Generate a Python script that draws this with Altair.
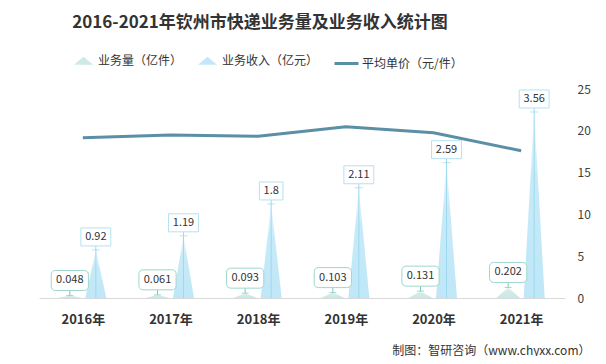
import altair as alt
import pandas as pd

# ---------------- data ----------------
years = ["2016年", "2017年", "2018年", "2019年", "2020年", "2021年"]
volume = [0.048, 0.061, 0.093, 0.103, 0.131, 0.202]      # 业务量（亿件）
revenue = [0.92, 1.19, 1.8, 2.11, 2.59, 3.56]            # 业务收入（亿元）
price = [19.17, 19.51, 19.35, 20.49, 19.77, 17.62]       # 平均单价（元/件）
right_ticks = [0, 5, 10, 15, 20, 25]

S_VOL = "业务量（亿件）"
S_REV = "业务收入（亿元）"
S_PRICE = "平均单价（元/件）"

FONT = "Noto Sans CJK SC"
W, H = 526, 209
XU = W / 6.0          # px per x unit
YU = H / 4.0          # px per unit of left (hidden) scale 0..4

VOL_OFF, REV_OFF = -13 / XU, 13 / XU
VOL_HW, REV_HW = 12 / XU, 10.5 / XU


def text_w(s):
    return sum(3.0 if c == "." else 6.3 for c in s)


tri_vol, tri_rev = [], []
lab_vol, lab_rev = [], []
for i, (v, r) in enumerate(zip(volume, revenue)):
    for s, val, off, hw, tri, lab, gap, bh, pad in [
        (S_VOL, v, VOL_OFF, VOL_HW, tri_vol, lab_vol, 5, 20, 9),
        (S_REV, r, REV_OFF, REV_HW, tri_rev, lab_rev, 4, 18, 8),
    ]:
        c = i + off
        tid = f"{s}-{i}"
        tri += [
            dict(tri=tid, x=c - hw, y=0.0),
            dict(tri=tid, x=c, y=val),
            dict(tri=tid, x=c + hw, y=0.0),
        ]
        label = str(val)
        bw = (text_w(label) + pad) / XU
        yb = val + gap / YU
        yt = yb + bh / YU
        lab.append(dict(cx=c, v=val, zero=0.0, label=label,
                        x1=c - bw / 2, x2=c + bw / 2, yb=yb, yt=yt,
                        ty=(yb + yt) / 2))

tri_vol = pd.DataFrame(tri_vol)
tri_rev = pd.DataFrame(tri_rev)
lab_vol = pd.DataFrame(lab_vol)
lab_rev = pd.DataFrame(lab_rev)
line_df = pd.DataFrame({"x": list(range(len(years))), "price": price,
                        "s": [S_PRICE] * len(years)})
legend_df = pd.DataFrame({"s": [S_VOL, S_REV], "x": [0.0, 0.0], "y": [0.0, 0.0]})

# ---------------- scales / axes ----------------
xs = alt.Scale(domain=[-0.5, 5.5], nice=False, zero=False)
yl = alt.Scale(domain=[0, 4], nice=False, zero=True)
yr = alt.Scale(domain=[0, 25], nice=False, zero=True)

label_expr = "[" + ",".join(f"'{y}'" for y in years) + "][datum.value]"
XAXIS = alt.Axis(values=list(range(len(years))), labelExpr=label_expr,
                 ticks=False, grid=False, domainColor="#d9d9d9", domainWidth=1,
                 labelFont=FONT, labelFontSize=13, labelFontWeight="bold",
                 labelColor="#333333", labelPadding=15,
                 title="制图：智研咨询（www.chyxx.com）", titleFont=FONT,
                 titleFontSize=12, titleFontWeight="normal", titleColor="#333333",
                 titleAlign="right", titleBaseline="middle",
                 titleX=551, titleY=52)


def X(field):
    return alt.X(f"{field}:Q", scale=xs, axis=XAXIS)


VOL_COL = "#cdeae6"
REV_COL = "#c2e8f7"
LINE_COL = "#5a8fa5"


def grad(top, mid, bottom):
    return alt.LinearGradient(
        gradient="linear", x1=0, x2=0, y1=0, y2=1,
        stops=[alt.GradientStop(color=top, offset=0),
               alt.GradientStop(color=mid, offset=0.35),
               alt.GradientStop(color=bottom, offset=1)])


# legend carrier (zero-size areas)
legend_layer = alt.Chart(legend_df).mark_area(opacity=1).encode(
    x=X("x"),
    y=alt.Y("y:Q", scale=yl, axis=None, stack=None),
    fill=alt.Fill("s:N", scale=alt.Scale(domain=[S_VOL, S_REV], range=[VOL_COL, REV_COL]),
                  legend=alt.Legend(orient="none", direction="horizontal", legendX=34, legendY=-39,
                                    title=None, symbolType="M-1,0.42L0,-0.42L1,0.42Z",
                                    symbolSize=361, symbolOpacity=1, labelFont=FONT,
                                    labelFontSize=12, labelColor="#333333", labelOffset=4,
                                    columnPadding=14)),
)

vol_tri = alt.Chart(tri_vol).mark_area(color=grad("#eaf6f4", "#d3ece9", "#c9e8e4")).encode(
    x=X("x"),
    y=alt.Y("y:Q", scale=yl, axis=None, stack=None),
    detail="tri:N",
)
rev_tri = alt.Chart(tri_rev).mark_area(color=grad("#eef8fd", "#c7eaf8", "#bfe7f7")).encode(
    x=X("x"),
    y=alt.Y("y:Q", scale=yl, axis=None, stack=None),
    detail="tri:N",
)

rev_rule = alt.Chart(lab_rev).mark_rule(color="#9fd8ef", strokeWidth=1).encode(
    x=X("cx"),
    y=alt.Y("zero:Q", scale=yl, axis=None),
    y2="yb:Q",
)
rev_tick = alt.Chart(lab_rev).mark_point(shape="stroke", size=64, strokeWidth=1,
                                          color="#9fd8ef").encode(
    x=X("cx"),
    y=alt.Y("v:Q", scale=yl, axis=None),
)
rev_box = alt.Chart(lab_rev).mark_rect(fill="white", stroke="#b3e2f4", strokeWidth=1).encode(
    x=X("x1"), x2="x2:Q",
    y=alt.Y("yb:Q", scale=yl, axis=None), y2="yt:Q",
)
rev_text = alt.Chart(lab_rev).mark_text(font=FONT, fontSize=11, color="#333333",
                                         baseline="middle").encode(
    x=X("cx"),
    y=alt.Y("ty:Q", scale=yl, axis=None),
    text="label:N",
)

vol_rule = alt.Chart(lab_vol).mark_rule(color="#7cc8bd", strokeWidth=1).encode(
    x=X("cx"),
    y=alt.Y("v:Q", scale=yl, axis=None),
    y2="yb:Q",
)
vol_tick = alt.Chart(lab_vol).mark_point(shape="stroke", size=49, strokeWidth=1,
                                          color="#7cc8bd").encode(
    x=X("cx"),
    y=alt.Y("v:Q", scale=yl, axis=None),
)
vol_box = alt.Chart(lab_vol).mark_rect(fill="white", stroke="#9dd6ce", strokeWidth=1,
                                       cornerRadius=4).encode(
    x=X("x1"), x2="x2:Q",
    y=alt.Y("yb:Q", scale=yl, axis=None), y2="yt:Q",
)
vol_text = alt.Chart(lab_vol).mark_text(font=FONT, fontSize=11, color="#333333",
                                         baseline="middle").encode(
    x=X("cx"),
    y=alt.Y("ty:Q", scale=yl, axis=None),
    text="label:N",
)

line = alt.Chart(line_df).mark_line(strokeWidth=3).encode(
    x=X("x"),
    y=alt.Y("price:Q", scale=yr,
            axis=alt.Axis(orient="right", values=right_ticks, domain=False, ticks=False,
                          grid=False, labelPadding=12, labelFont=FONT, labelFontSize=12,
                          labelColor="#404040", title=None)),
    stroke=alt.Stroke("s:N", scale=alt.Scale(domain=[S_PRICE], range=[LINE_COL]),
                      legend=alt.Legend(orient="none", direction="horizontal", legendX=294,
                                        legendY=-39, title=None, symbolType="stroke",
                                        symbolSize=576, symbolStrokeWidth=3,
                                        labelFont=FONT, labelFontSize=12,
                                        labelColor="#333333", labelOffset=2)),
)

left = alt.layer(legend_layer, vol_tri, rev_tri, rev_rule, rev_tick, vol_rule, vol_tick,
                 rev_box, rev_text, vol_box, vol_text)

chart = alt.layer(left, line).resolve_scale(y="independent").properties(
    width=W, height=H,
    autosize=alt.AutoSizeParams(type="none"),
    padding={"left": 31, "top": 81, "right": 33, "bottom": 58},
    background="white",
    title=alt.Title("2016-2021年钦州市快递业务量及业务收入统计图", anchor="middle", dx=-42,
                    font=FONT, fontSize=17, fontWeight="bold", color="#333333", offset=18),
).configure_view(stroke=None)

chart.save("out.html", embed_options={"renderer": "svg", "actions": False})
